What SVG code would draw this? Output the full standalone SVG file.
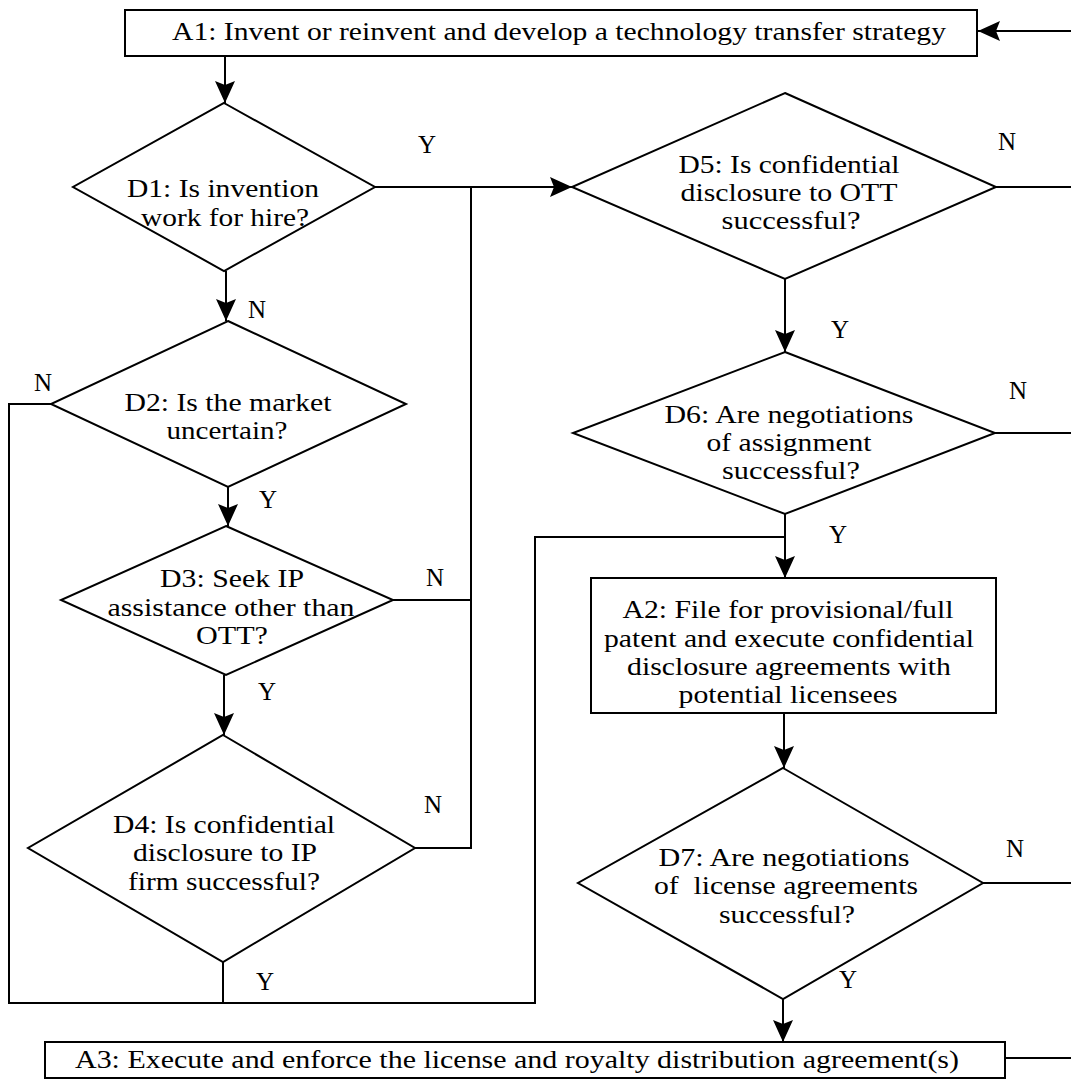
<svg xmlns="http://www.w3.org/2000/svg" width="1071" height="1080" viewBox="0 0 1071 1080">
<defs>
<style>
.box{fill:#fff;stroke:#000;stroke-width:2}
.dia{fill:#fff;stroke:#000;stroke-width:2}
.ln{fill:none;stroke:#000;stroke-width:2}
text{font-family:"Liberation Serif","Times New Roman",serif;font-size:26px;fill:#000;text-anchor:middle}
.lbl{font-size:25px}
</style>
<marker id="arr" viewBox="0 0 22 20" refX="22" refY="10" markerWidth="22" markerHeight="20" markerUnits="userSpaceOnUse" orient="auto">
<path d="M0,0 L22,10 L0,20 L4,10 z" fill="#000"/>
</marker>
</defs>
<rect width="1071" height="1080" fill="#fff"/>

<g id="connectors">
<path class="ln" d="M225,56 V103" marker-end="url(#arr)"/>
<path class="ln" d="M226,271 V321" marker-end="url(#arr)"/>
<path class="ln" d="M228,487 V526" marker-end="url(#arr)"/>
<path class="ln" d="M224,675 V735" marker-end="url(#arr)"/>
<path class="ln" d="M375,187 H572" marker-end="url(#arr)"/>
<path class="ln" d="M415,848 H471 V187"/>
<path class="ln" d="M393,600 H471"/>
<path class="ln" d="M51,404 H9 V1003 H535 V537 H785"/>
<path class="ln" d="M223,962 V1003"/>
<path class="ln" d="M785,279 V352" marker-end="url(#arr)"/>
<path class="ln" d="M785,514 V578" marker-end="url(#arr)"/>
<path class="ln" d="M784,713 V768" marker-end="url(#arr)"/>
<path class="ln" d="M783,999 V1042" marker-end="url(#arr)"/>
<path class="ln" d="M996,187 H1071"/>
<path class="ln" d="M995,433 H1071"/>
<path class="ln" d="M983,883 H1071"/>
<path class="ln" d="M1005,1058 H1071"/>
<path class="ln" d="M1071,31 H978" marker-end="url(#arr)"/>
</g>

<g id="labels">
<text class="lbl" x="427" y="153">Y</text>
<text class="lbl" x="257" y="318">N</text>
<text class="lbl" x="43" y="391">N</text>
<text class="lbl" x="268" y="508">Y</text>
<text class="lbl" x="435" y="586">N</text>
<text class="lbl" x="267" y="700">Y</text>
<text class="lbl" x="433" y="813">N</text>
<text class="lbl" x="265" y="990">Y</text>
<text class="lbl" x="1007" y="150">N</text>
<text class="lbl" x="840" y="338">Y</text>
<text class="lbl" x="1018" y="399">N</text>
<text class="lbl" x="838" y="543">Y</text>
<text class="lbl" x="1015" y="857">N</text>
<text class="lbl" x="848" y="988">Y</text>
</g>

<g id="A1">
<rect class="box" x="125" y="10" width="852" height="46"/>
<text x="559" y="40" textLength="774" lengthAdjust="spacingAndGlyphs">A1: Invent or reinvent and develop a technology transfer strategy</text>
</g>

<g id="D1">
<polygon class="dia" points="224,103 375,187 224,271 73,187"/>
<text x="223" y="197" textLength="192" lengthAdjust="spacingAndGlyphs">D1: Is invention</text>
<text x="225" y="226" textLength="168" lengthAdjust="spacingAndGlyphs">work for hire?</text>
</g>

<g id="D2">
<polygon class="dia" points="228,321 406,404 228,487 51,404"/>
<text x="228" y="411" textLength="207" lengthAdjust="spacingAndGlyphs">D2: Is the market</text>
<text x="227" y="439" textLength="121" lengthAdjust="spacingAndGlyphs">uncertain?</text>
</g>

<g id="D3">
<polygon class="dia" points="226,526 393,600 226,675 61,600"/>
<text x="232" y="587" textLength="144" lengthAdjust="spacingAndGlyphs">D3: Seek IP</text>
<text x="231" y="616" textLength="247" lengthAdjust="spacingAndGlyphs">assistance other than</text>
<text x="232" y="644" textLength="72" lengthAdjust="spacingAndGlyphs">OTT?</text>
</g>

<g id="D4">
<polygon class="dia" points="223,735 415,848 223,962 28,848"/>
<text x="224" y="833" textLength="222" lengthAdjust="spacingAndGlyphs">D4: Is confidential</text>
<text x="225" y="861" textLength="184" lengthAdjust="spacingAndGlyphs">disclosure to IP</text>
<text x="224" y="890" textLength="192" lengthAdjust="spacingAndGlyphs">firm successful?</text>
</g>

<g id="D5">
<polygon class="dia" points="785,93 996,187 785,279 572,187"/>
<text x="789" y="173" textLength="221" lengthAdjust="spacingAndGlyphs">D5: Is confidential</text>
<text x="789" y="201" textLength="217" lengthAdjust="spacingAndGlyphs">disclosure to OTT</text>
<text x="791" y="229" textLength="139" lengthAdjust="spacingAndGlyphs">successful?</text>
</g>

<g id="D6">
<polygon class="dia" points="785,352 995,433 785,514 573,433"/>
<text x="789" y="423" textLength="249" lengthAdjust="spacingAndGlyphs">D6: Are negotiations</text>
<text x="789" y="451" textLength="165" lengthAdjust="spacingAndGlyphs">of assignment</text>
<text x="791" y="479" textLength="138" lengthAdjust="spacingAndGlyphs">successful?</text>
</g>

<g id="A2">
<rect class="box" x="591" y="578" width="405" height="135"/>
<text x="788" y="618" textLength="331" lengthAdjust="spacingAndGlyphs">A2: File for provisional/full</text>
<text x="789" y="647" textLength="370" lengthAdjust="spacingAndGlyphs">patent and execute confidential</text>
<text x="789" y="675" textLength="324" lengthAdjust="spacingAndGlyphs">disclosure agreements with</text>
<text x="788" y="703" textLength="219" lengthAdjust="spacingAndGlyphs">potential licensees</text>
</g>

<g id="D7">
<polygon class="dia" points="783,768 983,883 783,999 578,883"/>
<text x="784" y="866" textLength="251" lengthAdjust="spacingAndGlyphs">D7: Are negotiations</text>
<text x="786" y="894" textLength="264" lengthAdjust="spacingAndGlyphs" style="white-space:pre">of  license agreements</text>
<text x="787" y="923" textLength="136" lengthAdjust="spacingAndGlyphs">successful?</text>
</g>

<g id="A3">
<rect class="box" x="45" y="1042" width="960" height="36"/>
<text x="517" y="1068" textLength="884" lengthAdjust="spacingAndGlyphs">A3: Execute and enforce the license and royalty distribution agreement(s)</text>
</g>
</svg>
